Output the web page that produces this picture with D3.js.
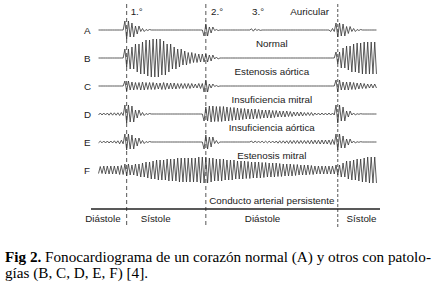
<!DOCTYPE html>
<html>
<head>
<meta charset="utf-8">
<script src="https://cdn.jsdelivr.net/npm/d3@7"></script>
<style>
  body { margin: 0; background: #fff; }
  svg { display: block; }
  .lbl { font-family: "Liberation Sans", Arial, sans-serif; font-size: 9.8px; fill: #1a1a1a; }
  .cap { font-family: "Liberation Serif", "Times New Roman", serif; font-size: 15.2px; fill: #000; }
</style>
</head>
<body>
<div id="chart"></div>
<script>
// rows of the phonocardiogram
var rowKeys = ["A", "B", "C", "D", "E", "F"];
var rowNames = ["Normal", "Estenosis aórtica", "Insuficiencia mitral",
  "Insuficiencia aórtica", "Estenosis mitral", "Conducto arterial persistente"];

// envelope samples every 20 ms, from -120 ms to 960 ms (S1 at 0, S2 at 300, next S1 at 800)
var sampleStart = -120, sampleStep = 20;
var envA = [0,0,0,0,0,0, 9,7,4,1.5,0.5, 0,0,0,0,0,0,0,0,0,0, 6,3,0.5, 0,0,0,0,0,0, 1.2,0.4,
  0,0,0,0,0,0,0,0,0,0,0,0,0, 1.5, 7,6,3.5,1.5,0.5, 0,0,0,0];
var envB = [0,0,0,0,0,0, 9,11,14,16,18,19,19,17,14,11,9,7,5.5,4.5,4,4,3,1,
  0,0,0,0,0,0,0,0,0,0,0,0,0,0,0,0,0,0,0,0,0,0, 6,10,12,14,15,16,16,16,15];
var envC = [0,0,0,0,0,0, 5,4,3.5,4,3.5,3.5,3,3.5,3,3,2.5,2.5,2.5,2,2.5, 6,2,0.5,
  0,0,0,0,0,0,0,0,0,0,0,0,0,0,0,0,0,0,0,0,0,0, 6,4,4,3.5,3,2.5,2,2,1.5];
var envD = [1,1,1,1.2,1.2,1.5, 9,8,4,1.5,0.5, 0,0,0,0,0,0,0,0,0,0,
  7,8,7.5,7.5,7,6.5,6,5.5,5,5,4.5,4,4,3.5,3,3,2.5,2,2,1.5,1.5,1,1,1,1,
  9,7,3,1,0.3, 0,0,0,0];
var envE = [1.5,0.8,1,1,1.2,1.8, 8,7,4,1.5,0.5, 0,0,0,0,0,0,0,0,0,0, 7,5,1.5,
  0,0,0,0,0,0, 1,0.5, 0.8,0.8,1,1.2,1.2,1.5,1.5,1.5,1.5,1.8,1.8,2,2,2.5,
  8,6,3,1,0.3, 0,0,0,0];
var envF = [3.5,3.5,4,4,4,4.5, 6,5,6,7,8,9,10,10,11,11,12,12,12,12,13,13,
  12,11,11,10,10,9,9,8.5,8,8,7.5,7,7,6.5,6,6,5.5,5,5,4.5,4,4,4,4,
  5,7,9,10,11,12,13,13,12];
var envelopes = [envA, envB, envC, envD, envE, envF];

// heart sound times (ms) and the phase labels
var soundTimes = [0, 300, 800];
var soundLabels = ["1.°", "2.°", "3.°", "Auricular"];
var phaseLabels = ["Diástole", "Sístole", "Diástole", "Sístole"];

var width = 437, height = 294;

var svg = d3.select("#chart").append("svg")
  .attr("width", width).attr("height", height);

var x = d3.scaleLinear().domain([-120, 960]).range([95, 380]);
var y = d3.scalePoint().domain(rowKeys).range([30, 170]);
var amp = d3.scaleLinear().domain([-20, 20]).range([20, -20]);

// dashed markers at the heart sounds
svg.selectAll(".marker").data(soundTimes).enter().append("line")
  .attr("x1", function(d) { return x(d); }).attr("x2", function(d) { return x(d); })
  .attr("y1", 4).attr("y2", 227)
  .attr("stroke", "#555").attr("stroke-width", 1)
  .attr("stroke-dasharray", function(d, i) { return i == 2 ? "3,2" : "4,3"; });

// traces: three half-cycles per envelope sample
var half = sampleStep / 3;
var line = d3.line().x(function(d) { return x(d[0]); }).y(function(d) { return d[1]; });

envelopes.forEach(function(env, r) {
  var base = y(rowKeys[r]);
  var pts = [];
  var n = env.length * 3;
  for (var j = 0; j < n; j++) {
    var t = sampleStart - sampleStep / 2 + j * half + half / 2;
    if (t < -112 || t > 952) continue;
    var a = env[Math.floor(j / 3)];
    var s = j % 2 == 0 ? 1 : -1;
    pts.push([t, base + amp(s * a)]);
  }
  svg.append("path")
    .attr("d", line(pts))
    .attr("fill", "none")
    .attr("stroke", "#333")
    .attr("stroke-width", 0.8);

  svg.append("text").attr("class", "lbl")
    .attr("x", 84).attr("y", base + 4)
    .text(rowKeys[r]);
});

// pathology names under each trace
svg.selectAll(".name").data(rowNames).enter().append("text")
  .attr("class", "lbl")
  .attr("x", x(550))
  .attr("y", function(d, i) { return i == 5 ? 204 : y(rowKeys[i]) + 17; })
  .attr("text-anchor", "middle")
  .text(function(d) { return d; });

// sound labels on top
var soundLabelT = [15, 320, 475, 620];
svg.selectAll(".snd").data(soundLabels).enter().append("text")
  .attr("class", "lbl")
  .attr("x", function(d, i) { return x(soundLabelT[i]); })
  .attr("y", 15)
  .text(function(d) { return d; });

// time axis line and phases
svg.append("line")
  .attr("x1", 91).attr("x2", 380).attr("y1", 209).attr("y2", 209)
  .attr("stroke", "#222").attr("stroke-width", 1.4);

var phaseT = [-90, 110, 515, 890];
svg.selectAll(".phase").data(phaseLabels).enter().append("text")
  .attr("class", "lbl")
  .attr("x", function(d, i) { return x(phaseT[i]); })
  .attr("y", 222)
  .attr("text-anchor", "middle")
  .text(function(d) { return d; });

// caption
var cap = svg.append("text").attr("class", "cap").attr("x", 5).attr("y", 262);
cap.append("tspan").attr("font-weight", "bold").text("Fig 2.");
cap.append("tspan").text(" Fonocardiograma de un corazón normal (A) y otros con patolo-");
svg.append("text").attr("class", "cap").attr("x", 5).attr("y", 278)
  .text("gías (B, C, D, E, F) [4].");
</script>
</body>
</html>
